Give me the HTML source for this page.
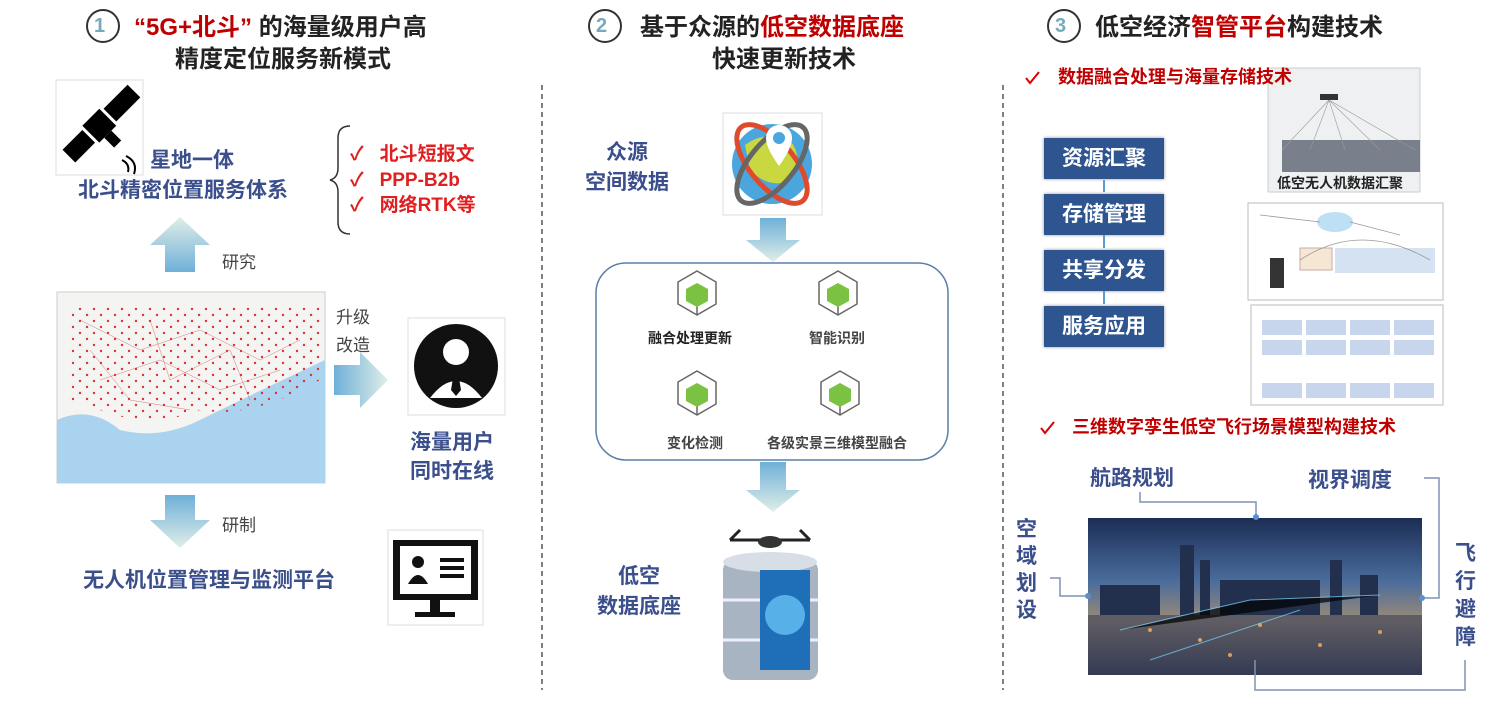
<!DOCTYPE html>
<html><head><meta charset="utf-8"><style>
*{margin:0;padding:0;box-sizing:border-box}
body{width:1506px;height:705px;background:#fff;position:relative;overflow:hidden;font-family:"Liberation Sans","Noto Sans CJK SC",sans-serif;font-weight:bold}
.t{position:absolute;white-space:nowrap;line-height:1}
.h{font-size:24px;color:#222}
.r{color:#c00000}
.b{color:#3b4f8c;font-size:21px}
.rl{color:#e02020;font-size:19px}
.g{color:#444;font-size:17px;font-weight:normal}
.fb{position:absolute;left:1044px;width:120px;height:41px;background:#2f5590;color:#fff;font-size:21px;text-align:center;line-height:41px;box-shadow:0 0 3px #889}
svg{position:absolute;left:0;top:0}
</style></head><body>
<svg width="1506" height="705">
<defs>
<linearGradient id="au" x1="0" y1="1" x2="0" y2="0"><stop offset="0" stop-color="#6fb0d8"/><stop offset="1" stop-color="#dfeee8"/></linearGradient>
<linearGradient id="ad" x1="0" y1="0" x2="0" y2="1"><stop offset="0" stop-color="#6fb0d8"/><stop offset="1" stop-color="#dfeee8"/></linearGradient>
<linearGradient id="ar" x1="0" y1="0" x2="1" y2="0"><stop offset="0" stop-color="#6fb0d8"/><stop offset="1" stop-color="#dfeee8"/></linearGradient>
<linearGradient id="city" x1="0" y1="0" x2="0" y2="1"><stop offset="0" stop-color="#1b2d55"/><stop offset=".4" stop-color="#4a6c9c"/><stop offset=".65" stop-color="#9a8a78"/><stop offset="1" stop-color="#2a3550"/></linearGradient>
<g id="cube"><polygon points="0,-22 19,-11 19,11 0,22 -19,11 -19,-11" fill="#fff" stroke="#666" stroke-width="1.5"/><line x1="0" y1="10" x2="0" y2="22" stroke="#666" stroke-width="1.5"/><polygon points="0,-10 11,-4 11,8 0,14 -11,8 -11,-4" fill="#7cc242"/></g>
<pattern id="dots" width="14" height="12" patternUnits="userSpaceOnUse"><circle cx="3" cy="3" r="1.2" fill="#d33"/><circle cx="10" cy="9" r="1.2" fill="#d33"/></pattern>
</defs>
<line x1="542" y1="85" x2="542" y2="690" stroke="#555" stroke-width="1.5" stroke-dasharray="5,4"/>
<line x1="1003" y1="85" x2="1003" y2="690" stroke="#555" stroke-width="1.5" stroke-dasharray="5,4"/>
<circle cx="103" cy="26" r="16" fill="none" stroke="#333" stroke-width="2"/>
<circle cx="605" cy="26" r="16" fill="none" stroke="#333" stroke-width="2"/>
<circle cx="1064" cy="26" r="16" fill="none" stroke="#333" stroke-width="2"/>
<!-- satellite -->
<rect x="56" y="80" width="87" height="95" fill="#fff" stroke="#ddd"/>
<g transform="translate(100,125) rotate(-45)"><rect x="-44" y="-9" width="28" height="18" fill="#000"/><rect x="-13" y="-12" width="24" height="24" fill="#000"/><rect x="14" y="-9" width="34" height="18" fill="#000"/><rect x="-6" y="12" width="10" height="14" fill="#000"/></g>
<path d="M122 160 q8 4 6 12 M126 156 q12 6 8 18" stroke="#000" fill="none" stroke-width="2"/>
<path d="M350 126 q-12 0 -12 12 v30 q0 10 -8 12 q8 2 8 12 v30 q0 12 12 12" stroke="#333" fill="none" stroke-width="1.5"/>
<polygon points="165,272 195,272 195,245 210,245 180,217 150,245 165,245" fill="url(#au)"/>
<polygon points="165,495 195,495 195,520 210,520 180,548 150,520 165,520" fill="url(#ad)"/>
<polygon points="334,365 360,365 360,352 388,380 360,408 360,395 334,395" fill="url(#ar)"/>
<!-- map -->
<rect x="57" y="292" width="268" height="191" fill="#f4f4f2" stroke="#ccc"/>
<path d="M57 420 Q90 405 120 430 Q160 440 200 420 T325 360 V483 H57Z" fill="#a9d3ee"/>
<path d="M70 305 H320 V380 Q250 420 200 410 Q150 430 100 410 L70 400Z" fill="url(#dots)"/>
<g stroke="#c44" stroke-width="0.5" fill="none" opacity=".7">
<path d="M80 320 L140 350 L200 330 L260 360 L300 340 M100 380 L160 360 L220 390 L280 370 M90 350 L130 400 L190 410 M150 320 L170 380 L230 350 L250 400"/>
</g>
<!-- person -->
<rect x="408" y="318" width="97" height="97" fill="#fff" stroke="#ddd"/>
<circle cx="456" cy="366" r="42" fill="#111"/><circle cx="456" cy="352" r="13" fill="#fff"/><path d="M430 398 q26-34 52 0" fill="#fff"/><path d="M454 372 l4 0 l3 18 l-5 6 l-5-6z" fill="#111"/>
<!-- monitor -->
<rect x="388" y="530" width="95" height="95" fill="#fff" stroke="#ddd"/>
<rect x="393" y="540" width="85" height="60" fill="#111"/><rect x="400" y="546" width="71" height="48" fill="#fff"/><rect x="430" y="600" width="10" height="12" fill="#111"/><rect x="415" y="612" width="40" height="5" fill="#111"/>
<circle cx="418" cy="562" r="6" fill="#111"/><path d="M408 584 q10-18 20 0z" fill="#111"/><rect x="440" y="558" width="24" height="4" fill="#111"/><rect x="440" y="566" width="24" height="4" fill="#111"/><rect x="440" y="574" width="24" height="4" fill="#111"/>
<!-- globe -->
<rect x="723" y="113" width="99" height="102" fill="#fff" stroke="#ddd"/>
<circle cx="772" cy="164" r="40" fill="#4aa6dd"/><path d="M745 145 q20-15 45 -5 q15 20 0 40 q-20 10 -40 -10z" fill="#c9d840"/>
<ellipse cx="772" cy="164" rx="48" ry="22" transform="rotate(50 772 164)" fill="none" stroke="#e04a2c" stroke-width="5"/>
<ellipse cx="772" cy="164" rx="48" ry="22" transform="rotate(-50 772 164)" fill="none" stroke="#666" stroke-width="5"/>
<path d="M779 125 a13 13 0 0 1 13 13 q0 10 -13 28 q-13 -18 -13 -28 a13 13 0 0 1 13 -13z" fill="#fff"/><circle cx="779" cy="138" r="6" fill="#4aa6dd"/>
<polygon points="760,218 786,218 786,240 800,240 773,262 746,240 760,240" fill="url(#ad)"/>
<rect x="596" y="263" width="352" height="197" rx="30" fill="none" stroke="#5b7fa8" stroke-width="1.5"/>
<use href="#cube" x="697" y="293"/><use href="#cube" x="838" y="293"/><use href="#cube" x="697" y="393"/><use href="#cube" x="840" y="393"/>
<polygon points="760,462 786,462 786,490 800,490 773,512 746,490 760,490" fill="url(#ad)"/>
<!-- database -->
<rect x="705" y="528" width="133" height="162" fill="#fff"/>
<rect x="723" y="560" width="95" height="120" rx="10" fill="#a8b4c2"/><ellipse cx="770" cy="562" rx="47" ry="10" fill="#d8dee6"/>
<line x1="723" y1="600" x2="818" y2="600" stroke="#eef" stroke-width="3"/><line x1="723" y1="640" x2="818" y2="640" stroke="#eef" stroke-width="3"/>
<rect x="760" y="570" width="50" height="100" fill="#1f6fb8"/><circle cx="785" cy="615" r="20" fill="#58b0e8"/>
<path d="M730 540 h80 M740 530 l-10 10 M800 530 l10 10" stroke="#222" stroke-width="3"/><ellipse cx="770" cy="542" rx="12" ry="6" fill="#333"/>
<!-- section 3 -->
<path d="M1026 78 l4 5 l9 -11" stroke="#d00" stroke-width="2" fill="none"/>
<path d="M1041 428 l4 5 l9 -11" stroke="#d00" stroke-width="2" fill="none"/>
<rect x="1268" y="68" width="152" height="124" fill="#eef0f2" stroke="#ccc"/>
<rect x="1282" y="140" width="138" height="32" fill="#7a7f8c"/>
<path d="M1329 100 L1282 150 M1329 100 L1310 150 M1329 100 L1345 150 M1329 100 L1380 150 M1329 100 L1415 150" stroke="#999" stroke-width=".6"/>
<rect x="1320" y="94" width="18" height="6" fill="#333"/>
<rect x="1248" y="203" width="195" height="97" fill="#fff" stroke="#bbb"/>
<ellipse cx="1335" cy="222" rx="18" ry="10" fill="#bde0f5"/><rect x="1270" y="258" width="14" height="30" fill="#333"/>
<rect x="1300" y="248" width="32" height="22" fill="#f6e6d4" stroke="#caa"/><rect x="1335" y="248" width="100" height="25" fill="#d4e2f2"/>
<path d="M1260 215 L1320 222 M1350 222 L1400 235 M1300 260 q60-40 130 0" stroke="#999" fill="none" stroke-width=".8"/>
<rect x="1251" y="305" width="192" height="100" fill="#fff" stroke="#bbb"/>
<g fill="#c7d6ec"><rect x="1262" y="320" width="40" height="15"/><rect x="1306" y="320" width="40" height="15"/><rect x="1350" y="320" width="40" height="15"/><rect x="1394" y="320" width="40" height="15"/>
<rect x="1262" y="340" width="40" height="15"/><rect x="1306" y="340" width="40" height="15"/><rect x="1350" y="340" width="40" height="15"/><rect x="1394" y="340" width="40" height="15"/>
<rect x="1262" y="383" width="40" height="15"/><rect x="1306" y="383" width="40" height="15"/><rect x="1350" y="383" width="40" height="15"/><rect x="1394" y="383" width="40" height="15"/></g>
<path d="M1104 180 v12 M1104 235 v13 M1104 291 v13" stroke="#5b9bd5" stroke-width="2"/>
<rect x="1088" y="518" width="334" height="157" fill="url(#city)"/>
<g fill="#22304d"><rect x="1180" y="545" width="14" height="70"/><rect x="1200" y="560" width="10" height="55"/><rect x="1330" y="560" width="12" height="55"/><rect x="1360" y="575" width="18" height="40"/><rect x="1100" y="585" width="60" height="30"/><rect x="1220" y="580" width="100" height="35"/></g>
<rect x="1088" y="615" width="334" height="60" fill="#3a3f55" opacity=".6"/>
<g fill="#ffb060" opacity=".8"><circle cx="1150" cy="630" r="2"/><circle cx="1200" cy="640" r="2"/><circle cx="1260" cy="625" r="2"/><circle cx="1320" cy="645" r="2"/><circle cx="1380" cy="632" r="2"/><circle cx="1230" cy="655" r="2"/></g>
<path d="M1120 630 L1250 600 L1380 595 M1150 660 L1300 610" stroke="#7fd4ff" stroke-width="1" opacity=".7"/>
<g stroke="#7f93b3" stroke-width="1.5" fill="none">
<path d="M1140 492 v10 h116 v14"/><path d="M1424 478 h15 v120 h-15"/><path d="M1050 578 h10 v18 h28"/><path d="M1255 660 v30 h210 v-30"/>
</g>
<g fill="#5b8fd0"><circle cx="1256" cy="517" r="3"/><circle cx="1088" cy="596" r="3"/><circle cx="1422" cy="598" r="3"/></g>
</svg>

<div class="t h" style="left:94px;top:16px;font-size:20px;color:#7ab">1</div>
<div class="t h" style="left:596px;top:16px;font-size:20px;color:#7ab">2</div>
<div class="t h" style="left:1055px;top:16px;font-size:20px;color:#7ab">3</div>
<div class="t h" style="left:134px;top:16px"><span class="r">“5G+北斗”&nbsp;</span>的海量级用户高</div>
<div class="t h" style="left:175px;top:48px">精度定位服务新模式</div>
<div class="t h" style="left:640px;top:16px">基于众源的<span class="r">低空数据底座</span></div>
<div class="t h" style="left:712px;top:48px">快速更新技术</div>
<div class="t h" style="left:1095px;top:16px">低空经济<span class="r">智管平台</span>构建技术</div>

<div class="t b" style="left:150px;top:150px">星地一体</div>
<div class="t b" style="left:78px;top:180px">北斗精密位置服务体系</div>
<div class="t rl" style="left:350px;top:142px;line-height:25.5px">✓&nbsp;&nbsp;&nbsp;北斗短报文<br>✓&nbsp;&nbsp;&nbsp;PPP-B2b<br>✓&nbsp;&nbsp;&nbsp;网络RTK等</div>
<div class="t g" style="left:222px;top:254px">研究</div>
<div class="t g" style="left:222px;top:517px">研制</div>
<div class="t g" style="left:336px;top:304px;line-height:28px">升级<br>改造</div>
<div class="t b" style="left:410px;top:428px;line-height:29px;text-align:center">海量用户<br>同时在线</div>
<div class="t b" style="left:83px;top:570px">无人机位置管理与监测平台</div>

<div class="t b" style="left:585px;top:138px;line-height:30px;text-align:center">众源<br>空间数据</div>
<div class="t" style="left:648px;top:331px;font-size:14px;color:#222">融合处理更新</div>
<div class="t" style="left:809px;top:331px;font-size:14px;color:#444">智能识别</div>
<div class="t" style="left:667px;top:436px;font-size:14px;color:#444">变化检测</div>
<div class="t" style="left:767px;top:436px;font-size:14px;color:#444">各级实景三维模型融合</div>
<div class="t b" style="left:597px;top:562px;line-height:30px;text-align:center">低空<br>数据底座</div>

<div class="t r" style="left:1058px;top:68px;font-size:18px">数据融合处理与海量存储技术</div>
<div class="fb" style="top:138px">资源汇聚</div>
<div class="fb" style="top:194px">存储管理</div>
<div class="fb" style="top:250px">共享分发</div>
<div class="fb" style="top:306px">服务应用</div>
<div class="t" style="left:1277px;top:176px;font-size:14px;color:#222">低空无人机数据汇聚</div>
<div class="t r" style="left:1072px;top:418px;font-size:18px">三维数字孪生低空飞行场景模型构建技术</div>
<div class="t b" style="left:1090px;top:468px">航路规划</div>
<div class="t b" style="left:1308px;top:470px">视界调度</div>
<div class="t b" style="left:1016px;top:516px;width:24px;line-height:27px;white-space:normal">空域划设</div>
<div class="t b" style="left:1455px;top:540px;width:24px;line-height:28px;white-space:normal">飞行避障</div>
</body></html>
